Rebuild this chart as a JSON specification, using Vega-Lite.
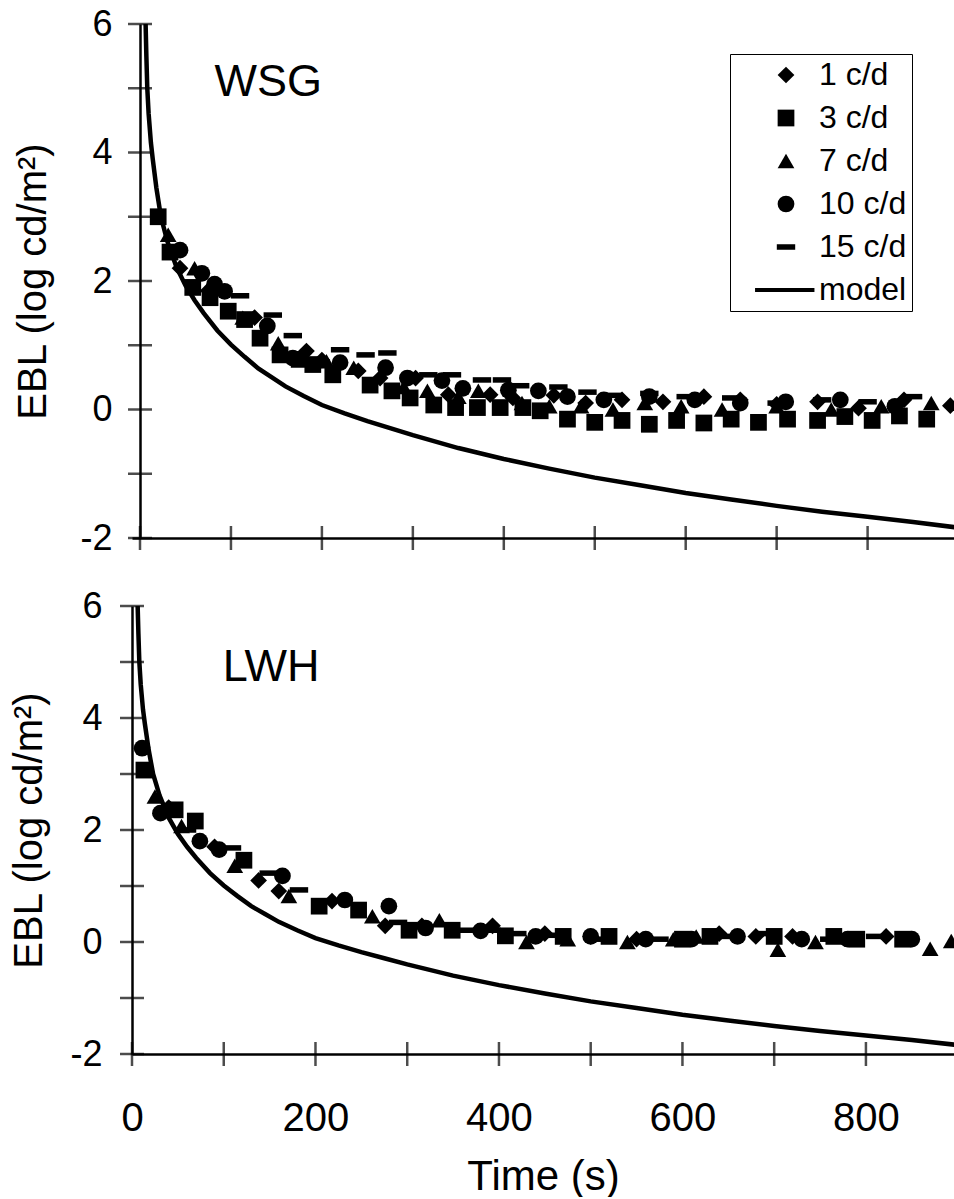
{
  "$schema": "https://vega.github.io/schema/vega-lite/v6.json",
  "padding": {"left": 9, "top": 6, "right": 0, "bottom": 0},
  "background": "white",
  "config": {
    "font": "Liberation Sans",
    "view": {"stroke": null},
    "axis": {"domainColor": "black", "domainWidth": 2.5, "labelColor": "black", "titleColor": "black", "labelFont": "Liberation Sans", "titleFont": "Liberation Sans", "titleFontWeight": "normal", "grid": false, "ticks": false, "labelFlush": false}
  },
  "datasets": {
    "model": [
      {"t": 6, "ebl": 6.1}, {"t": 7, "ebl": 5.5}, {"t": 8, "ebl": 5.0}, {"t": 9.5, "ebl": 4.6}, {"t": 12, "ebl": 4.15}, {"t": 14, "ebl": 3.9}, {"t": 18, "ebl": 3.45}, {"t": 23, "ebl": 3.0}, {"t": 30, "ebl": 2.62}, {"t": 40, "ebl": 2.22}, {"t": 50, "ebl": 1.93}, {"t": 60, "ebl": 1.7}, {"t": 70, "ebl": 1.5}, {"t": 85, "ebl": 1.23}, {"t": 100, "ebl": 1.01}, {"t": 115, "ebl": 0.82}, {"t": 130, "ebl": 0.64}, {"t": 145, "ebl": 0.5}, {"t": 160, "ebl": 0.36}, {"t": 180, "ebl": 0.21}, {"t": 200, "ebl": 0.07}, {"t": 225, "ebl": -0.06}, {"t": 250, "ebl": -0.18}, {"t": 275, "ebl": -0.29}, {"t": 300, "ebl": -0.4}, {"t": 350, "ebl": -0.6}, {"t": 400, "ebl": -0.77}, {"t": 450, "ebl": -0.92}, {"t": 500, "ebl": -1.06}, {"t": 550, "ebl": -1.18}, {"t": 600, "ebl": -1.3}, {"t": 650, "ebl": -1.4}, {"t": 700, "ebl": -1.5}, {"t": 750, "ebl": -1.59}, {"t": 800, "ebl": -1.67}, {"t": 850, "ebl": -1.75}, {"t": 900, "ebl": -1.84}
    ],
    "xticks": [{"t": 0}, {"t": 100}, {"t": 200}, {"t": 300}, {"t": 400}, {"t": 500}, {"t": 600}, {"t": 700}, {"t": 800}],
    "yticks": [{"ebl": -2}, {"ebl": -1}, {"ebl": 0}, {"ebl": 1}, {"ebl": 2}, {"ebl": 3}, {"ebl": 4}, {"ebl": 5}, {"ebl": 6}],
    "labels": [{"panel": "WSG", "t": 82, "ebl": 4.88}, {"panel": "LWH", "t": 99, "ebl": 4.66}],
    "pts": [
      {"panel": "WSG", "series": "1 c/d", "t": 44, "ebl": 2.2}, {"panel": "WSG", "series": "1 c/d", "t": 75, "ebl": 1.85}, {"panel": "WSG", "series": "1 c/d", "t": 126, "ebl": 1.43}, {"panel": "WSG", "series": "1 c/d", "t": 183, "ebl": 0.91}, {"panel": "WSG", "series": "1 c/d", "t": 200, "ebl": 0.77}, {"panel": "WSG", "series": "1 c/d", "t": 240, "ebl": 0.6}, {"panel": "WSG", "series": "1 c/d", "t": 264, "ebl": 0.49}, {"panel": "WSG", "series": "1 c/d", "t": 303, "ebl": 0.49}, {"panel": "WSG", "series": "1 c/d", "t": 339, "ebl": 0.23}, {"panel": "WSG", "series": "1 c/d", "t": 385, "ebl": 0.23}, {"panel": "WSG", "series": "1 c/d", "t": 410, "ebl": 0.18}, {"panel": "WSG", "series": "1 c/d", "t": 455, "ebl": 0.22}, {"panel": "WSG", "series": "1 c/d", "t": 490, "ebl": 0.1}, {"panel": "WSG", "series": "1 c/d", "t": 530, "ebl": 0.15}, {"panel": "WSG", "series": "1 c/d", "t": 575, "ebl": 0.12}, {"panel": "WSG", "series": "1 c/d", "t": 620, "ebl": 0.2}, {"panel": "WSG", "series": "1 c/d", "t": 660, "ebl": 0.15}, {"panel": "WSG", "series": "1 c/d", "t": 700, "ebl": 0.08}, {"panel": "WSG", "series": "1 c/d", "t": 745, "ebl": 0.12}, {"panel": "WSG", "series": "1 c/d", "t": 790, "ebl": 0.02}, {"panel": "WSG", "series": "1 c/d", "t": 840, "ebl": 0.15}, {"panel": "WSG", "series": "1 c/d", "t": 891, "ebl": 0.06},
      {"panel": "WSG", "series": "3 c/d", "t": 20, "ebl": 3.0}, {"panel": "WSG", "series": "3 c/d", "t": 33, "ebl": 2.45}, {"panel": "WSG", "series": "3 c/d", "t": 58, "ebl": 1.9}, {"panel": "WSG", "series": "3 c/d", "t": 77, "ebl": 1.74}, {"panel": "WSG", "series": "3 c/d", "t": 97, "ebl": 1.53}, {"panel": "WSG", "series": "3 c/d", "t": 115, "ebl": 1.4}, {"panel": "WSG", "series": "3 c/d", "t": 132, "ebl": 1.11}, {"panel": "WSG", "series": "3 c/d", "t": 154, "ebl": 0.85}, {"panel": "WSG", "series": "3 c/d", "t": 175, "ebl": 0.78}, {"panel": "WSG", "series": "3 c/d", "t": 190, "ebl": 0.7}, {"panel": "WSG", "series": "3 c/d", "t": 212, "ebl": 0.54}, {"panel": "WSG", "series": "3 c/d", "t": 253, "ebl": 0.38}, {"panel": "WSG", "series": "3 c/d", "t": 277, "ebl": 0.29}, {"panel": "WSG", "series": "3 c/d", "t": 297, "ebl": 0.18}, {"panel": "WSG", "series": "3 c/d", "t": 323, "ebl": 0.07}, {"panel": "WSG", "series": "3 c/d", "t": 347, "ebl": 0.03}, {"panel": "WSG", "series": "3 c/d", "t": 371, "ebl": 0.03}, {"panel": "WSG", "series": "3 c/d", "t": 396, "ebl": 0.03}, {"panel": "WSG", "series": "3 c/d", "t": 421, "ebl": 0.03}, {"panel": "WSG", "series": "3 c/d", "t": 440, "ebl": -0.02}, {"panel": "WSG", "series": "3 c/d", "t": 470, "ebl": -0.15}, {"panel": "WSG", "series": "3 c/d", "t": 500, "ebl": -0.2}, {"panel": "WSG", "series": "3 c/d", "t": 530, "ebl": -0.17}, {"panel": "WSG", "series": "3 c/d", "t": 560, "ebl": -0.23}, {"panel": "WSG", "series": "3 c/d", "t": 590, "ebl": -0.17}, {"panel": "WSG", "series": "3 c/d", "t": 620, "ebl": -0.21}, {"panel": "WSG", "series": "3 c/d", "t": 650, "ebl": -0.15}, {"panel": "WSG", "series": "3 c/d", "t": 680, "ebl": -0.2}, {"panel": "WSG", "series": "3 c/d", "t": 712, "ebl": -0.15}, {"panel": "WSG", "series": "3 c/d", "t": 745, "ebl": -0.17}, {"panel": "WSG", "series": "3 c/d", "t": 775, "ebl": -0.11}, {"panel": "WSG", "series": "3 c/d", "t": 805, "ebl": -0.17}, {"panel": "WSG", "series": "3 c/d", "t": 835, "ebl": -0.1}, {"panel": "WSG", "series": "3 c/d", "t": 865, "ebl": -0.15},
      {"panel": "WSG", "series": "7 c/d", "t": 31, "ebl": 2.72}, {"panel": "WSG", "series": "7 c/d", "t": 60, "ebl": 2.2}, {"panel": "WSG", "series": "7 c/d", "t": 113, "ebl": 1.43}, {"panel": "WSG", "series": "7 c/d", "t": 152, "ebl": 1.03}, {"panel": "WSG", "series": "7 c/d", "t": 205, "ebl": 0.75}, {"panel": "WSG", "series": "7 c/d", "t": 235, "ebl": 0.65}, {"panel": "WSG", "series": "7 c/d", "t": 290, "ebl": 0.35}, {"panel": "WSG", "series": "7 c/d", "t": 316, "ebl": 0.29}, {"panel": "WSG", "series": "7 c/d", "t": 350, "ebl": 0.2}, {"panel": "WSG", "series": "7 c/d", "t": 372, "ebl": 0.29}, {"panel": "WSG", "series": "7 c/d", "t": 420, "ebl": 0.1}, {"panel": "WSG", "series": "7 c/d", "t": 450, "ebl": 0.05}, {"panel": "WSG", "series": "7 c/d", "t": 485, "ebl": 0.05}, {"panel": "WSG", "series": "7 c/d", "t": 520, "ebl": 0.0}, {"panel": "WSG", "series": "7 c/d", "t": 555, "ebl": 0.1}, {"panel": "WSG", "series": "7 c/d", "t": 595, "ebl": 0.05}, {"panel": "WSG", "series": "7 c/d", "t": 640, "ebl": 0.0}, {"panel": "WSG", "series": "7 c/d", "t": 700, "ebl": 0.05}, {"panel": "WSG", "series": "7 c/d", "t": 760, "ebl": 0.0}, {"panel": "WSG", "series": "7 c/d", "t": 815, "ebl": 0.05}, {"panel": "WSG", "series": "7 c/d", "t": 870, "ebl": 0.1},
      {"panel": "WSG", "series": "10 c/d", "t": 44, "ebl": 2.48}, {"panel": "WSG", "series": "10 c/d", "t": 68, "ebl": 2.12}, {"panel": "WSG", "series": "10 c/d", "t": 82, "ebl": 1.95}, {"panel": "WSG", "series": "10 c/d", "t": 93, "ebl": 1.84}, {"panel": "WSG", "series": "10 c/d", "t": 140, "ebl": 1.3}, {"panel": "WSG", "series": "10 c/d", "t": 168, "ebl": 0.8}, {"panel": "WSG", "series": "10 c/d", "t": 220, "ebl": 0.73}, {"panel": "WSG", "series": "10 c/d", "t": 270, "ebl": 0.65}, {"panel": "WSG", "series": "10 c/d", "t": 294, "ebl": 0.49}, {"panel": "WSG", "series": "10 c/d", "t": 332, "ebl": 0.45}, {"panel": "WSG", "series": "10 c/d", "t": 355, "ebl": 0.33}, {"panel": "WSG", "series": "10 c/d", "t": 405, "ebl": 0.3}, {"panel": "WSG", "series": "10 c/d", "t": 438, "ebl": 0.29}, {"panel": "WSG", "series": "10 c/d", "t": 470, "ebl": 0.2}, {"panel": "WSG", "series": "10 c/d", "t": 510, "ebl": 0.15}, {"panel": "WSG", "series": "10 c/d", "t": 560, "ebl": 0.2}, {"panel": "WSG", "series": "10 c/d", "t": 610, "ebl": 0.15}, {"panel": "WSG", "series": "10 c/d", "t": 660, "ebl": 0.1}, {"panel": "WSG", "series": "10 c/d", "t": 710, "ebl": 0.12}, {"panel": "WSG", "series": "10 c/d", "t": 770, "ebl": 0.15}, {"panel": "WSG", "series": "10 c/d", "t": 830, "ebl": 0.05},
      {"panel": "WSG", "series": "15 c/d", "t": 110, "ebl": 1.77}, {"panel": "WSG", "series": "15 c/d", "t": 146, "ebl": 1.47}, {"panel": "WSG", "series": "15 c/d", "t": 168, "ebl": 1.15}, {"panel": "WSG", "series": "15 c/d", "t": 220, "ebl": 0.93}, {"panel": "WSG", "series": "15 c/d", "t": 248, "ebl": 0.85}, {"panel": "WSG", "series": "15 c/d", "t": 272, "ebl": 0.88}, {"panel": "WSG", "series": "15 c/d", "t": 317, "ebl": 0.54}, {"panel": "WSG", "series": "15 c/d", "t": 343, "ebl": 0.54}, {"panel": "WSG", "series": "15 c/d", "t": 376, "ebl": 0.46}, {"panel": "WSG", "series": "15 c/d", "t": 398, "ebl": 0.46}, {"panel": "WSG", "series": "15 c/d", "t": 418, "ebl": 0.37}, {"panel": "WSG", "series": "15 c/d", "t": 460, "ebl": 0.35}, {"panel": "WSG", "series": "15 c/d", "t": 492, "ebl": 0.27}, {"panel": "WSG", "series": "15 c/d", "t": 520, "ebl": 0.22}, {"panel": "WSG", "series": "15 c/d", "t": 560, "ebl": 0.25}, {"panel": "WSG", "series": "15 c/d", "t": 600, "ebl": 0.2}, {"panel": "WSG", "series": "15 c/d", "t": 650, "ebl": 0.18}, {"panel": "WSG", "series": "15 c/d", "t": 700, "ebl": 0.1}, {"panel": "WSG", "series": "15 c/d", "t": 750, "ebl": 0.15}, {"panel": "WSG", "series": "15 c/d", "t": 800, "ebl": 0.12}, {"panel": "WSG", "series": "15 c/d", "t": 850, "ebl": 0.2},
      {"panel": "LWH", "series": "1 c/d", "t": 40, "ebl": 2.4}, {"panel": "LWH", "series": "1 c/d", "t": 90, "ebl": 1.7}, {"panel": "LWH", "series": "1 c/d", "t": 138, "ebl": 1.1}, {"panel": "LWH", "series": "1 c/d", "t": 160, "ebl": 0.91}, {"panel": "LWH", "series": "1 c/d", "t": 218, "ebl": 0.73}, {"panel": "LWH", "series": "1 c/d", "t": 276, "ebl": 0.29}, {"panel": "LWH", "series": "1 c/d", "t": 316, "ebl": 0.29}, {"panel": "LWH", "series": "1 c/d", "t": 393, "ebl": 0.29}, {"panel": "LWH", "series": "1 c/d", "t": 450, "ebl": 0.15}, {"panel": "LWH", "series": "1 c/d", "t": 500, "ebl": 0.1}, {"panel": "LWH", "series": "1 c/d", "t": 550, "ebl": 0.05}, {"panel": "LWH", "series": "1 c/d", "t": 640, "ebl": 0.15}, {"panel": "LWH", "series": "1 c/d", "t": 680, "ebl": 0.1}, {"panel": "LWH", "series": "1 c/d", "t": 720, "ebl": 0.1}, {"panel": "LWH", "series": "1 c/d", "t": 822, "ebl": 0.1}, {"panel": "LWH", "series": "1 c/d", "t": 850, "ebl": 0.05},
      {"panel": "LWH", "series": "3 c/d", "t": 13, "ebl": 3.07}, {"panel": "LWH", "series": "3 c/d", "t": 47, "ebl": 2.36}, {"panel": "LWH", "series": "3 c/d", "t": 69, "ebl": 2.16}, {"panel": "LWH", "series": "3 c/d", "t": 122, "ebl": 1.46}, {"panel": "LWH", "series": "3 c/d", "t": 204, "ebl": 0.64}, {"panel": "LWH", "series": "3 c/d", "t": 247, "ebl": 0.57}, {"panel": "LWH", "series": "3 c/d", "t": 302, "ebl": 0.21}, {"panel": "LWH", "series": "3 c/d", "t": 349, "ebl": 0.21}, {"panel": "LWH", "series": "3 c/d", "t": 407, "ebl": 0.11}, {"panel": "LWH", "series": "3 c/d", "t": 470, "ebl": 0.1}, {"panel": "LWH", "series": "3 c/d", "t": 520, "ebl": 0.1}, {"panel": "LWH", "series": "3 c/d", "t": 600, "ebl": 0.05}, {"panel": "LWH", "series": "3 c/d", "t": 630, "ebl": 0.1}, {"panel": "LWH", "series": "3 c/d", "t": 700, "ebl": 0.1}, {"panel": "LWH", "series": "3 c/d", "t": 765, "ebl": 0.1}, {"panel": "LWH", "series": "3 c/d", "t": 790, "ebl": 0.05}, {"panel": "LWH", "series": "3 c/d", "t": 840, "ebl": 0.05},
      {"panel": "LWH", "series": "7 c/d", "t": 25, "ebl": 2.6}, {"panel": "LWH", "series": "7 c/d", "t": 54, "ebl": 2.07}, {"panel": "LWH", "series": "7 c/d", "t": 112, "ebl": 1.36}, {"panel": "LWH", "series": "7 c/d", "t": 171, "ebl": 0.82}, {"panel": "LWH", "series": "7 c/d", "t": 262, "ebl": 0.46}, {"panel": "LWH", "series": "7 c/d", "t": 335, "ebl": 0.39}, {"panel": "LWH", "series": "7 c/d", "t": 430, "ebl": 0.0}, {"panel": "LWH", "series": "7 c/d", "t": 475, "ebl": 0.05}, {"panel": "LWH", "series": "7 c/d", "t": 540, "ebl": 0.0}, {"panel": "LWH", "series": "7 c/d", "t": 590, "ebl": 0.05}, {"panel": "LWH", "series": "7 c/d", "t": 615, "ebl": 0.1}, {"panel": "LWH", "series": "7 c/d", "t": 704, "ebl": -0.14}, {"panel": "LWH", "series": "7 c/d", "t": 745, "ebl": 0.0}, {"panel": "LWH", "series": "7 c/d", "t": 785, "ebl": 0.05}, {"panel": "LWH", "series": "7 c/d", "t": 870, "ebl": -0.12}, {"panel": "LWH", "series": "7 c/d", "t": 893, "ebl": 0.02},
      {"panel": "LWH", "series": "10 c/d", "t": 11, "ebl": 3.46}, {"panel": "LWH", "series": "10 c/d", "t": 31, "ebl": 2.3}, {"panel": "LWH", "series": "10 c/d", "t": 74, "ebl": 1.8}, {"panel": "LWH", "series": "10 c/d", "t": 95, "ebl": 1.65}, {"panel": "LWH", "series": "10 c/d", "t": 164, "ebl": 1.18}, {"panel": "LWH", "series": "10 c/d", "t": 232, "ebl": 0.75}, {"panel": "LWH", "series": "10 c/d", "t": 280, "ebl": 0.64}, {"panel": "LWH", "series": "10 c/d", "t": 320, "ebl": 0.25}, {"panel": "LWH", "series": "10 c/d", "t": 380, "ebl": 0.2}, {"panel": "LWH", "series": "10 c/d", "t": 440, "ebl": 0.1}, {"panel": "LWH", "series": "10 c/d", "t": 500, "ebl": 0.1}, {"panel": "LWH", "series": "10 c/d", "t": 560, "ebl": 0.05}, {"panel": "LWH", "series": "10 c/d", "t": 610, "ebl": 0.05}, {"panel": "LWH", "series": "10 c/d", "t": 660, "ebl": 0.1}, {"panel": "LWH", "series": "10 c/d", "t": 730, "ebl": 0.05}, {"panel": "LWH", "series": "10 c/d", "t": 780, "ebl": 0.05}, {"panel": "LWH", "series": "10 c/d", "t": 850, "ebl": 0.05},
      {"panel": "LWH", "series": "15 c/d", "t": 60, "ebl": 2.0}, {"panel": "LWH", "series": "15 c/d", "t": 109, "ebl": 1.68}, {"panel": "LWH", "series": "15 c/d", "t": 149, "ebl": 1.23}, {"panel": "LWH", "series": "15 c/d", "t": 182, "ebl": 0.93}, {"panel": "LWH", "series": "15 c/d", "t": 290, "ebl": 0.35}, {"panel": "LWH", "series": "15 c/d", "t": 363, "ebl": 0.21}, {"panel": "LWH", "series": "15 c/d", "t": 392, "ebl": 0.21}, {"panel": "LWH", "series": "15 c/d", "t": 420, "ebl": 0.15}, {"panel": "LWH", "series": "15 c/d", "t": 460, "ebl": 0.12}, {"panel": "LWH", "series": "15 c/d", "t": 513, "ebl": 0.05}, {"panel": "LWH", "series": "15 c/d", "t": 575, "ebl": 0.05}, {"panel": "LWH", "series": "15 c/d", "t": 650, "ebl": 0.1}, {"panel": "LWH", "series": "15 c/d", "t": 690, "ebl": 0.15}, {"panel": "LWH", "series": "15 c/d", "t": 760, "ebl": 0.05}, {"panel": "LWH", "series": "15 c/d", "t": 810, "ebl": 0.1}
    ]
  },
  "resolve": {"scale": {"x": "independent", "y": "independent"}, "legend": {"shape": "independent"}},
  "spacing": 32,
  "vconcat": [
    {
      "width": 822,
      "height": 514,
      "layer": [
        {
          "data": {"name": "model"},
          "mark": {"type": "line", "color": "black", "strokeWidth": 4.5, "clip": true},
          "encoding": {
            "x": {"field": "t", "type": "quantitative", "scale": {"domain": [-8.8, 895], "nice": false, "zero": false}, "axis": {"title": null, "labels": false, "values": [0, 200, 400, 600, 800]}},
            "y": {"field": "ebl", "type": "quantitative", "scale": {"domain": [-2, 6], "nice": false, "zero": false}, "axis": {"title": "EBL (log cd/m²)", "offset": -8, "values": [-2, 0, 2, 4, 6], "labelExpr": "'' + datum.value", "labelFontSize": 36, "labelPadding": 28, "titleFontSize": 40, "titlePadding": 26.5}}
          }
        },
        {"mark": {"type": "rule", "color": "black", "strokeWidth": 2.5}, "encoding": {"y": {"datum": 6, "type": "quantitative"}}},
        {"data": {"name": "yticks"}, "mark": {"type": "tick", "orient": "horizontal", "size": 24, "thickness": 2.5, "color": "black"}, "encoding": {"x": {"datum": 0, "type": "quantitative"}, "y": {"field": "ebl", "type": "quantitative"}}},
        {"data": {"name": "xticks"}, "mark": {"type": "tick", "orient": "vertical", "size": 24, "thickness": 2.5, "color": "black"}, "encoding": {"x": {"field": "t", "type": "quantitative"}, "y": {"datum": -2, "type": "quantitative"}}},
        {
          "data": {"name": "pts"},
          "transform": [{"filter": "datum.panel === 'WSG'"}],
          "mark": {"type": "point", "filled": true, "color": "black", "opacity": 1, "size": 280, "clip": true},
          "encoding": {
            "x": {"field": "t", "type": "quantitative"},
            "y": {"field": "ebl", "type": "quantitative"},
            "shape": {
              "field": "series", "type": "nominal",
              "scale": {"domain": ["1 c/d", "3 c/d", "7 c/d", "10 c/d", "15 c/d", "model"], "range": ["diamond", "square", "triangle-up", "circle", "M-1.1,-0.33L1.1,-0.33L1.1,0.33L-1.1,0.33Z", "M-3.7,-0.25L3.4,-0.25L3.4,0.25L-3.7,0.25Z"]},
              "legend": {"title": null, "orient": "none", "legendX": 598, "legendY": 30, "labelFontSize": 32, "labelFont": "Liberation Sans", "labelColor": "black", "symbolSize": 280, "symbolOffset": 35, "labelOffset": 17, "padding": 5, "rowPadding": 11, "strokeColor": "black", "fillColor": "white"}
            }
          }
        },
        {"data": {"name": "labels"}, "transform": [{"filter": "datum.panel === 'WSG'"}], "mark": {"type": "text", "fontSize": 45, "align": "left", "baseline": "alphabetic", "color": "black", "font": "Liberation Sans"}, "encoding": {"x": {"field": "t", "type": "quantitative"}, "y": {"field": "ebl", "type": "quantitative"}, "text": {"field": "panel", "type": "nominal"}}}
      ]
    },
    {
      "width": 822,
      "height": 448,
      "layer": [
        {
          "data": {"name": "model"},
          "mark": {"type": "line", "color": "black", "strokeWidth": 4.5, "clip": true},
          "encoding": {
            "x": {"field": "t", "type": "quantitative", "scale": {"domain": [0, 896], "nice": false, "zero": false}, "axis": {"title": "Time (s)", "values": [0, 200, 400, 600, 800], "labelFontSize": 40, "labelPadding": 44, "titleFontSize": 42, "titlePadding": 18}},
            "y": {"field": "ebl", "type": "quantitative", "scale": {"domain": [-2, 6], "nice": false, "zero": false}, "axis": {"title": "EBL (log cd/m²)", "values": [-2, 0, 2, 4, 6], "labelExpr": "'' + datum.value", "labelFontSize": 36, "labelPadding": 30, "titleFontSize": 40, "titlePadding": 20.5}}
          }
        },
        {"mark": {"type": "rule", "color": "black", "strokeWidth": 2.5}, "encoding": {"y": {"datum": 6, "type": "quantitative"}}},
        {"data": {"name": "yticks"}, "mark": {"type": "tick", "orient": "horizontal", "size": 24, "thickness": 2.5, "color": "black"}, "encoding": {"x": {"datum": 0, "type": "quantitative"}, "y": {"field": "ebl", "type": "quantitative"}}},
        {"data": {"name": "xticks"}, "mark": {"type": "tick", "orient": "vertical", "size": 24, "thickness": 2.5, "color": "black"}, "encoding": {"x": {"field": "t", "type": "quantitative"}, "y": {"datum": -2, "type": "quantitative"}}},
        {
          "data": {"name": "pts"},
          "transform": [{"filter": "datum.panel === 'LWH'"}],
          "mark": {"type": "point", "filled": true, "color": "black", "opacity": 1, "size": 280, "clip": true},
          "encoding": {
            "x": {"field": "t", "type": "quantitative"},
            "y": {"field": "ebl", "type": "quantitative"},
            "shape": {
              "field": "series", "type": "nominal",
              "scale": {"domain": ["1 c/d", "3 c/d", "7 c/d", "10 c/d", "15 c/d", "model"], "range": ["diamond", "square", "triangle-up", "circle", "M-1.1,-0.33L1.1,-0.33L1.1,0.33L-1.1,0.33Z", "M-3.7,-0.25L3.4,-0.25L3.4,0.25L-3.7,0.25Z"]},
              "legend": null
            }
          }
        },
        {"data": {"name": "labels"}, "transform": [{"filter": "datum.panel === 'LWH'"}], "mark": {"type": "text", "fontSize": 45, "align": "left", "baseline": "alphabetic", "color": "black", "font": "Liberation Sans"}, "encoding": {"x": {"field": "t", "type": "quantitative"}, "y": {"field": "ebl", "type": "quantitative"}, "text": {"field": "panel", "type": "nominal"}}}
      ]
    }
  ]
}
